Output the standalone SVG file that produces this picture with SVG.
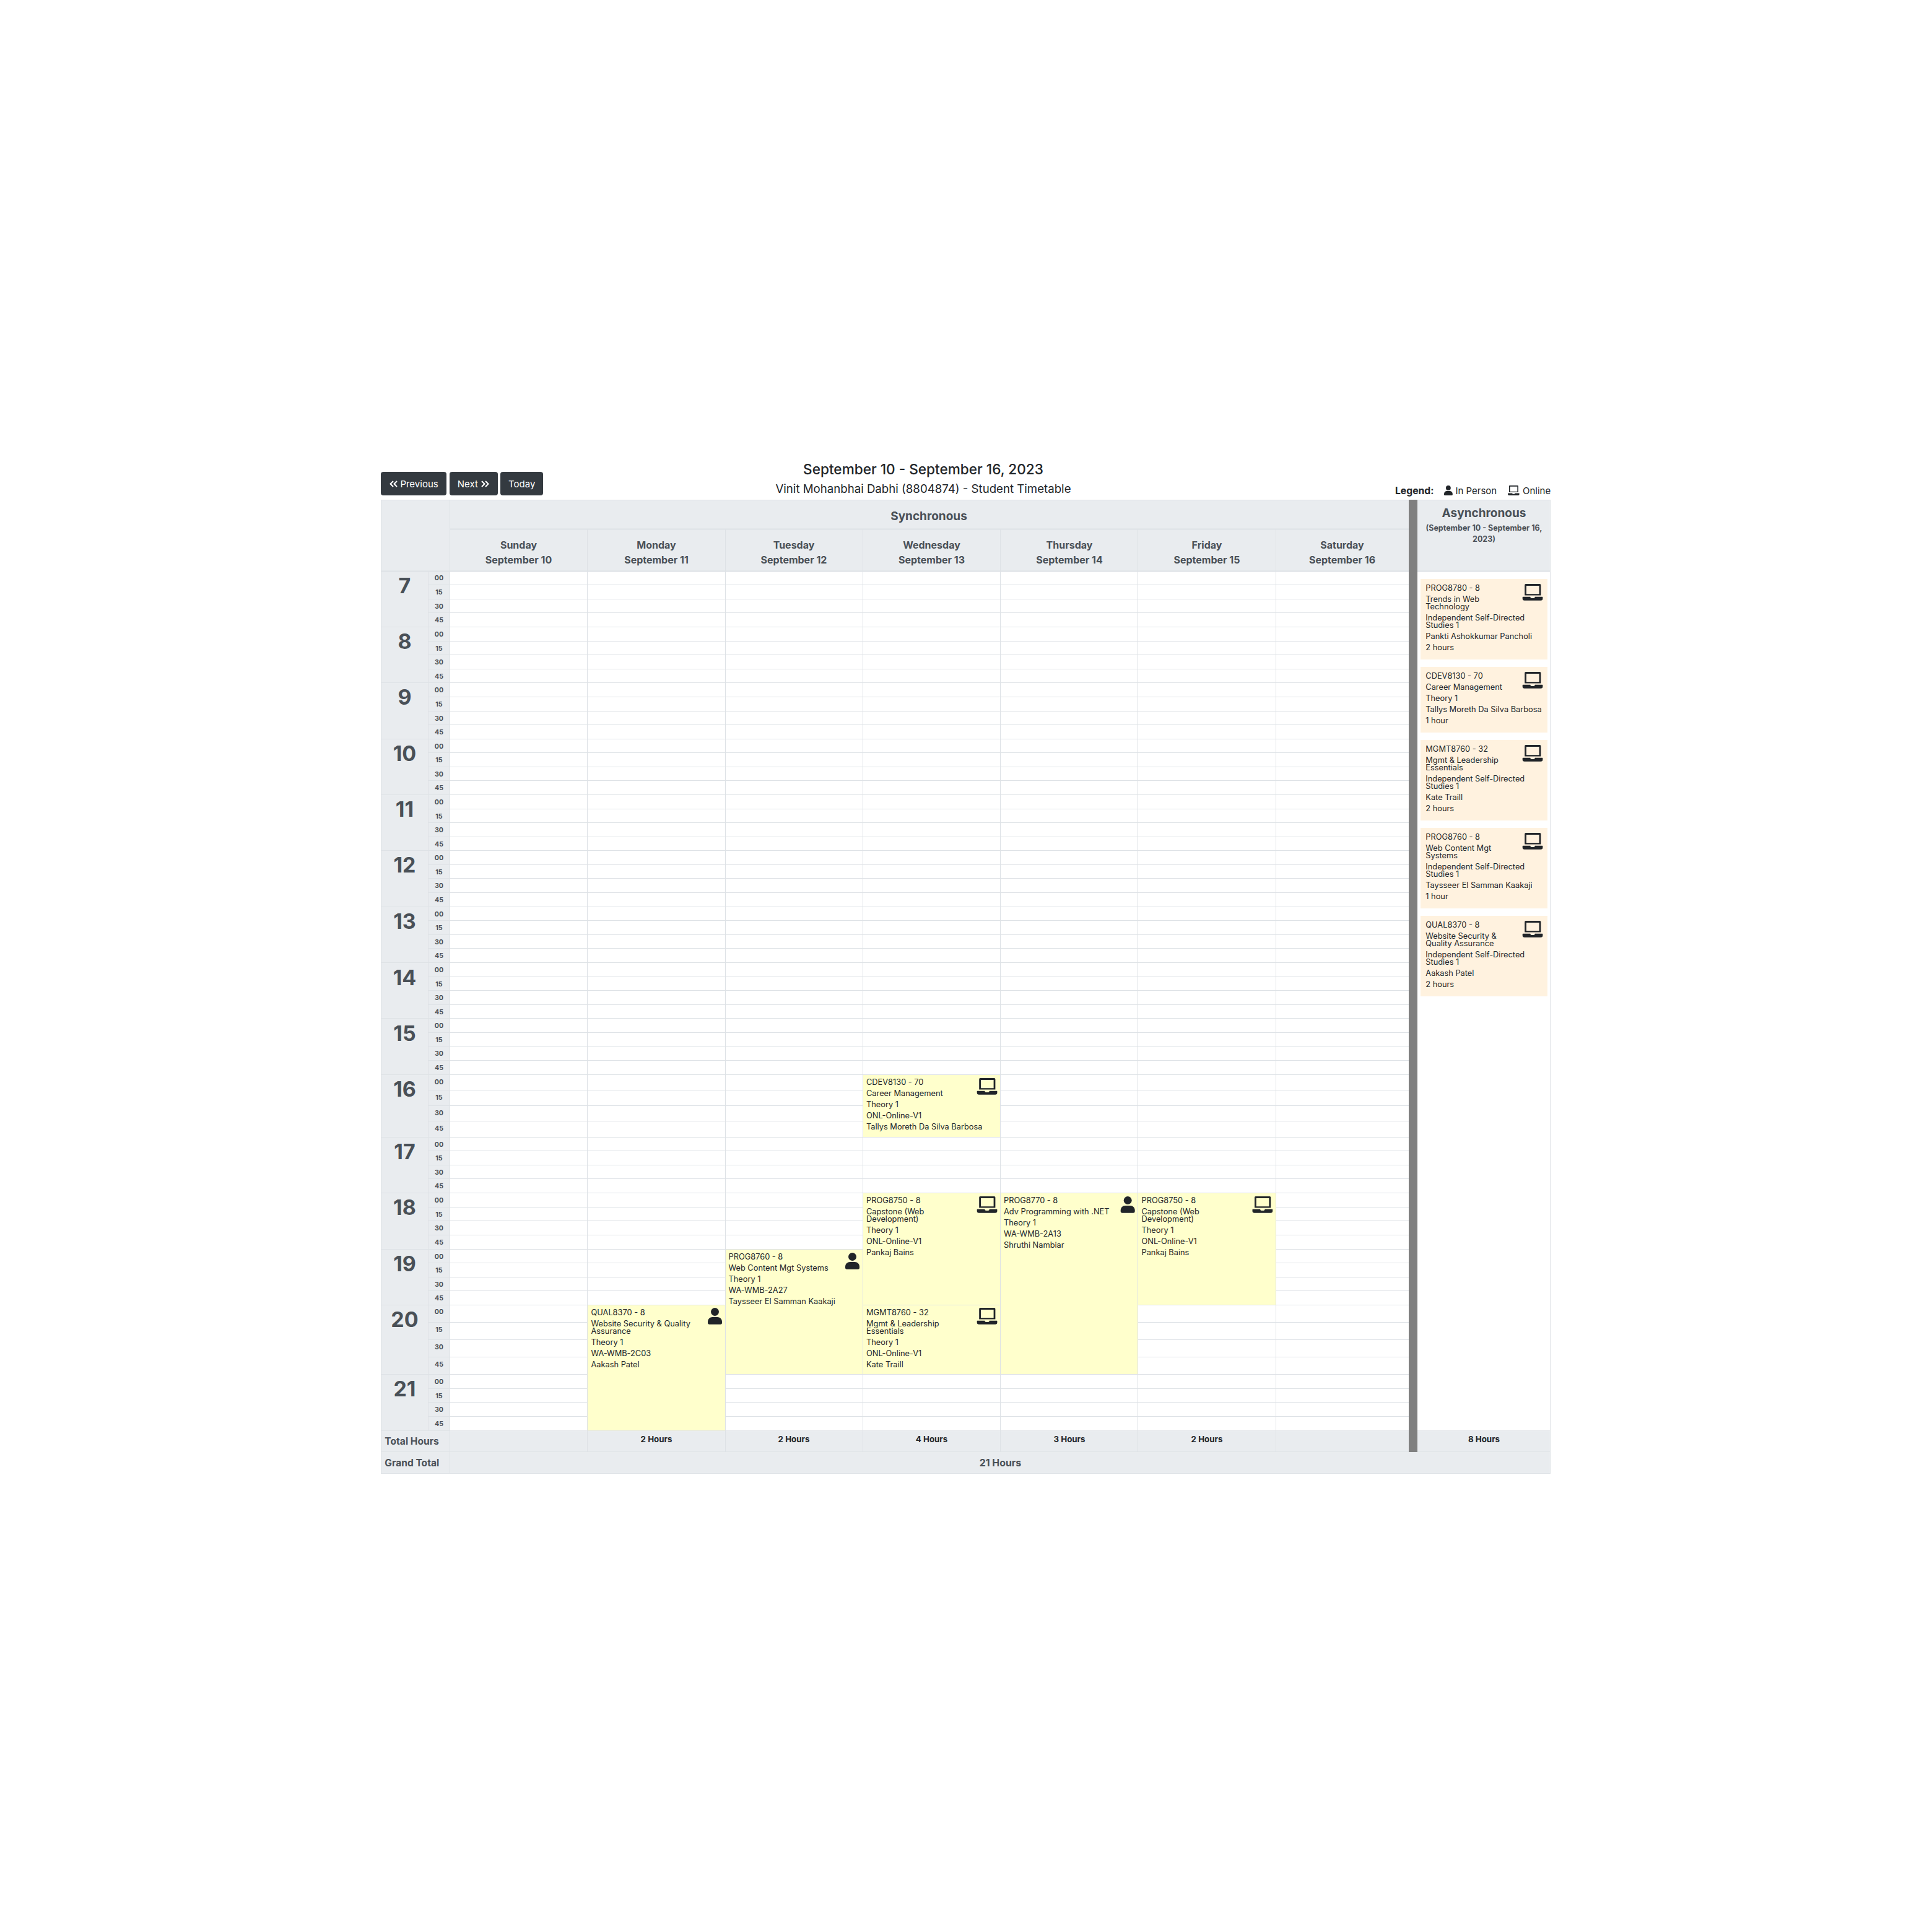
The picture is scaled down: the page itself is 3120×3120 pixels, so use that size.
<svg xmlns="http://www.w3.org/2000/svg" xmlns:xlink="http://www.w3.org/1999/xlink" width="3120" height="3120" viewBox="0 0 3120 3120">
<style>
text{font-family:Inter,"Liberation Sans",sans-serif;fill:#212529}
.h{font-size:34px;font-weight:700;fill:#495057;text-anchor:middle}
.m{font-size:10.700px;font-weight:700;fill:#495057;text-anchor:middle}
.d{font-size:16px;font-weight:700;fill:#495057;text-anchor:middle}
.e{font-size:12.800px}
.t{font-size:13.300px;font-weight:700;text-anchor:middle}
.l{font-size:15.600px;font-weight:700;fill:#495057}
.b{font-size:15px;fill:#fff}
.lg{font-size:15px}
.ev{fill:#ffffcc}
.cd{fill:#fff2df}
.ln{stroke:#dee2e6;stroke-width:1;fill:none}
.hd{fill:#e9ecef}
.ch{stroke:#fff;stroke-width:2;fill:none}
</style>
<defs>
<g id="laptop" fill="#212529"><path fill-rule="evenodd" d="M5.2 0H27.900Q29.700 0 29.700 1.800V18.500H3.500V1.800Q3.500 0 5.200 0ZM6.300 2.900V16.300H26.900V2.900Z"/><path d="M0.800 20.800H12.500Q13 23 14.500 23H18.200Q19.700 23 20.200 20.800H31.900Q32.700 20.800 32.700 21.600V23.500Q32.700 26.700 29.500 26.700H3.200Q0 26.700 0 23.500V21.600Q0 20.800 0.800 20.800Z"/></g>
<g id="person" fill="#212529"><circle cx="11.500" cy="6.500" r="6.500"/><path d="M0 22.500C0 18 3.500 15 7.500 15H15.500C19.500 15 23 18 23 22.500V24Q23 26.700 20.500 26.700H2.500Q0 26.700 0 24Z"/></g>
</defs>
<rect width="3120" height="3120" fill="#fff"/>

<g id="navigation">
<rect x="615" y="762" width="106" height="38" rx="4" fill="#343a40"/>
<rect x="726" y="762" width="78" height="38" rx="4" fill="#343a40"/>
<rect x="808" y="762" width="69" height="38" rx="4" fill="#343a40"/>
<path class="ch" d="M635 777l-4.500 4.500 4.500 4.500M641 777l-4.500 4.500 4.500 4.500M778 777l4.500 4.500-4.500 4.500M784 777l4.500 4.500-4.500 4.500"/>
<text class="b" x="646.400" y="787">Previous</text>
<text class="b" x="738.800" y="787">Next</text>
<text class="b" x="821" y="787">Today</text>
</g>
<g id="title">
<text x="1491" y="766" font-size="22.600" font-weight="500" text-anchor="middle">September 10 - September 16, 2023</text>
<text x="1491" y="796" font-size="18.650" text-anchor="middle">Vinit Mohanbhai Dabhi (8804874) - Student Timetable</text>
</g>
<g id="legend">
<text x="2253" y="798" font-size="15.700" font-weight="700">Legend:</text>
<use href="#person" transform="translate(2332 784) scale(.6)"/>
<text class="lg" x="2350.400" y="798">In Person</text>
<use href="#laptop" transform="translate(2435 784) scale(.57 .6)"/>
<text class="lg" x="2459" y="798">Online</text>
</g>

<g id="table-backgrounds">
<rect class="hd" x="615" y="807" width="1660" height="115"/>
<rect class="hd" x="2289" y="807" width="215" height="115"/>
<rect class="hd" x="615" y="922" width="111" height="1388"/>
<rect class="hd" x="615" y="2310" width="1889" height="69"/>
</g>

<g id="grid">
<path class="ln" d="M726 944.500H2275M726 967.500H2275M726 989.500H2275M726 1012.500H2275M726 1035.500H2275M726 1057.500H2275M726 1080.500H2275M726 1102.500H2275M726 1125.500H2275M726 1148.500H2275M726 1170.500H2275M726 1193.500H2275M726 1215.500H2275M726 1238.500H2275M726 1260.500H2275M726 1283.500H2275M726 1306.500H2275M726 1328.500H2275M726 1351.500H2275M726 1373.500H2275M726 1396.500H2275M726 1418.500H2275M726 1441.500H2275M726 1464.500H2275M726 1486.500H2275M726 1509.500H2275M726 1531.500H2275M726 1554.500H2275M726 1577.500H2275M726 1599.500H2275M726 1622.500H2275M726 1644.500H2275M726 1667.500H2275M726 1689.500H2275M726 1712.500H2275M726 1735.500H2275M726 1760.500H2275M726 1785.500H2275M726 1810.500H2275M726 1836.500H2275M726 1858.500H2275M726 1881.500H2275M726 1903.500H2275M726 1926.500H2275M726 1949.500H2275M726 1971.500H2275M726 1994.500H2275M726 2017.500H2275M726 2039.500H2275M726 2062.500H2275M726 2084.500H2275M726 2107.500H2275M726 2135.500H2275M726 2163.500H2275M726 2191.500H2275M726 2219.500H2275M726 2242.500H2275M726 2264.500H2275M726 2287.500H2275"/>
<path class="ln" d="M692 944.500H726M692 967.500H726M692 989.500H726M692 1035.500H726M692 1057.500H726M692 1080.500H726M692 1125.500H726M692 1148.500H726M692 1170.500H726M692 1215.500H726M692 1238.500H726M692 1260.500H726M692 1306.500H726M692 1328.500H726M692 1351.500H726M692 1396.500H726M692 1418.500H726M692 1441.500H726M692 1486.500H726M692 1509.500H726M692 1531.500H726M692 1577.500H726M692 1599.500H726M692 1622.500H726M692 1667.500H726M692 1689.500H726M692 1712.500H726M692 1760.500H726M692 1785.500H726M692 1810.500H726M692 1858.500H726M692 1881.500H726M692 1903.500H726M692 1949.500H726M692 1971.500H726M692 1994.500H726M692 2039.500H726M692 2062.500H726M692 2084.500H726M692 2135.500H726M692 2163.500H726M692 2191.500H726M692 2242.500H726M692 2264.500H726M692 2287.500H726"/>
<path class="ln" d="M615 1012.500H726M615 1102.500H726M615 1193.500H726M615 1283.500H726M615 1373.500H726M615 1464.500H726M615 1554.500H726M615 1644.500H726M615 1735.500H726M615 1836.500H726M615 1926.500H726M615 2017.500H726M615 2107.500H726M615 2219.500H726"/>
<path class="ln" d="M691.500 922V2310M726.500 807V2379M948.500 854V2344M1171.500 854V2344M1393.500 854V2344M1615.500 854V2344M1837.500 854V2344M2060.500 854V2344"/>
<path class="ln" d="M615.500 807V2379.500M615 807.500H2504M615 2310.500H2504M615 2344.500H2504M615 2379.500H2504M2503.500 807V2379"/>
<path class="ln" style="stroke-width:2" d="M726 854.500H2275M615 922.500H2275M2289 922.500H2504"/>
<rect x="2275" y="807" width="14" height="1538" fill="#808080"/>
</g>

<g id="headers">
<text x="1500" y="840" font-size="19" font-weight="700" text-anchor="middle" style="fill:#495057">Synchronous</text>
<text class="d" x="837.500" y="886">Sunday</text><text class="d" x="837.500" y="910">September 10</text>
<text class="d" x="1060" y="886">Monday</text><text class="d" x="1060" y="910">September 11</text>
<text class="d" x="1282" y="886">Tuesday</text><text class="d" x="1282" y="910">September 12</text>
<text class="d" x="1504.500" y="886">Wednesday</text><text class="d" x="1504.500" y="910">September 13</text>
<text class="d" x="1727" y="886">Thursday</text><text class="d" x="1727" y="910">September 14</text>
<text class="d" x="1949" y="886">Friday</text><text class="d" x="1949" y="910">September 15</text>
<text class="d" x="2167.500" y="886">Saturday</text><text class="d" x="2167.500" y="910">September 16</text>
<text x="2396.500" y="835" font-size="19" font-weight="700" text-anchor="middle" style="fill:#495057">Asynchronous</text>
<text x="2396.500" y="857" font-size="12.500" font-weight="700" text-anchor="middle" style="fill:#495057">(September 10 - September 16,</text>
<text x="2396.500" y="875" font-size="12.500" font-weight="700" text-anchor="middle" style="fill:#495057">2023)</text>
</g>

<g id="hour-labels">
<text class="h" x="653.500" y="958">7</text><text class="h" x="653.500" y="1048">8</text><text class="h" x="653.500" y="1138">9</text><text class="h" x="653.500" y="1229">10</text><text class="h" x="653.500" y="1319">11</text><text class="h" x="653.500" y="1409">12</text><text class="h" x="653.500" y="1500">13</text><text class="h" x="653.500" y="1591">14</text><text class="h" x="653.500" y="1681">15</text><text class="h" x="653.500" y="1771">16</text><text class="h" x="653.500" y="1872">17</text><text class="h" x="653.500" y="1962">18</text><text class="h" x="653.500" y="2053">19</text><text class="h" x="653.500" y="2143">20</text><text class="h" x="653.500" y="2255">21</text>
</g>
<g id="minute-labels">
<text class="m" x="709" y="937">00</text><text class="m" x="709" y="960">15</text><text class="m" x="709" y="983">30</text><text class="m" x="709" y="1005">45</text>
<text class="m" x="709" y="1028">00</text><text class="m" x="709" y="1051">15</text><text class="m" x="709" y="1073">30</text><text class="m" x="709" y="1096">45</text>
<text class="m" x="709" y="1118">00</text><text class="m" x="709" y="1141">15</text><text class="m" x="709" y="1164">30</text><text class="m" x="709" y="1186">45</text>
<text class="m" x="709" y="1209">00</text><text class="m" x="709" y="1231">15</text><text class="m" x="709" y="1254">30</text><text class="m" x="709" y="1276">45</text>
<text class="m" x="709" y="1299">00</text><text class="m" x="709" y="1322">15</text><text class="m" x="709" y="1344">30</text><text class="m" x="709" y="1367">45</text>
<text class="m" x="709" y="1389">00</text><text class="m" x="709" y="1412">15</text><text class="m" x="709" y="1434">30</text><text class="m" x="709" y="1457">45</text>
<text class="m" x="709" y="1480">00</text><text class="m" x="709" y="1502">15</text><text class="m" x="709" y="1525">30</text><text class="m" x="709" y="1547">45</text>
<text class="m" x="709" y="1570">00</text><text class="m" x="709" y="1593">15</text><text class="m" x="709" y="1615">30</text><text class="m" x="709" y="1638">45</text>
<text class="m" x="709" y="1660">00</text><text class="m" x="709" y="1683">15</text><text class="m" x="709" y="1705">30</text><text class="m" x="709" y="1728">45</text>
<text class="m" x="709" y="1751">00</text><text class="m" x="709" y="1776">15</text><text class="m" x="709" y="1801">30</text><text class="m" x="709" y="1826">45</text>
<text class="m" x="709" y="1852">00</text><text class="m" x="709" y="1874">15</text><text class="m" x="709" y="1897">30</text><text class="m" x="709" y="1919">45</text>
<text class="m" x="709" y="1942">00</text><text class="m" x="709" y="1965">15</text><text class="m" x="709" y="1987">30</text><text class="m" x="709" y="2010">45</text>
<text class="m" x="709" y="2033">00</text><text class="m" x="709" y="2055">15</text><text class="m" x="709" y="2078">30</text><text class="m" x="709" y="2100">45</text>
<text class="m" x="709" y="2122">00</text><text class="m" x="709" y="2151">15</text><text class="m" x="709" y="2179">30</text><text class="m" x="709" y="2207">45</text>
<text class="m" x="709" y="2235">00</text><text class="m" x="709" y="2258">15</text><text class="m" x="709" y="2280">30</text><text class="m" x="709" y="2303">45</text>
</g>

<g id="event-cdev8130">
<rect class="ev" x="1394" y="1736" width="221" height="100"/>
<use href="#laptop" x="1577.700" y="1741"/>
<text class="e" x="1399" y="1752">CDEV8130 - 70</text><text class="e" x="1399" y="1770">Career Management</text><text class="e" x="1399" y="1788">Theory 1</text><text class="e" x="1399" y="1806">ONL-Online-V1</text><text class="e" x="1399" y="1824">Tallys Moreth Da Silva Barbosa</text>
</g>
<g id="event-prog8750-wed">
<rect class="ev" x="1394" y="1927" width="221" height="180"/>
<use href="#laptop" x="1577.700" y="1932"/>
<text class="e" x="1399" y="1943">PROG8750 - 8</text><text class="e" x="1399" y="1961">Capstone (Web</text><text class="e" x="1399" y="1973">Development)</text><text class="e" x="1399" y="1991">Theory 1</text><text class="e" x="1399" y="2009">ONL-Online-V1</text><text class="e" x="1399" y="2027">Pankaj Bains</text>
</g>
<g id="event-mgmt8760">
<rect class="ev" x="1394" y="2108" width="221" height="111"/>
<use href="#laptop" x="1577.700" y="2112"/>
<text class="e" x="1399" y="2123.500">MGMT8760 - 32</text><text class="e" x="1399" y="2141.500">Mgmt &amp; Leadership</text><text class="e" x="1399" y="2153.500">Essentials</text><text class="e" x="1399" y="2171.500">Theory 1</text><text class="e" x="1399" y="2189.500">ONL-Online-V1</text><text class="e" x="1399" y="2207.500">Kate Traill</text>
</g>
<g id="event-prog8770">
<rect class="ev" x="1616" y="1927" width="221" height="292"/>
<use href="#person" x="1809.700" y="1932"/>
<text class="e" x="1621" y="1943">PROG8770 - 8</text><text class="e" x="1621" y="1961">Adv Programming with .NET</text><text class="e" x="1621" y="1979">Theory 1</text><text class="e" x="1621" y="1997">WA-WMB-2A13</text><text class="e" x="1621" y="2015">Shruthi Nambiar</text>
</g>
<g id="event-prog8750-fri">
<rect class="ev" x="1838" y="1927" width="222" height="180"/>
<use href="#laptop" x="2022.500" y="1932"/>
<text class="e" x="1843.500" y="1943">PROG8750 - 8</text><text class="e" x="1843.500" y="1961">Capstone (Web</text><text class="e" x="1843.500" y="1973">Development)</text><text class="e" x="1843.500" y="1991">Theory 1</text><text class="e" x="1843.500" y="2009">ONL-Online-V1</text><text class="e" x="1843.500" y="2027">Pankaj Bains</text>
</g>
<g id="event-prog8760">
<rect class="ev" x="1172" y="2018" width="221" height="201"/>
<use href="#person" x="1365" y="2023"/>
<text class="e" x="1176.500" y="2033.500">PROG8760 - 8</text><text class="e" x="1176.500" y="2051.500">Web Content Mgt Systems</text><text class="e" x="1176.500" y="2069.500">Theory 1</text><text class="e" x="1176.500" y="2087.500">WA-WMB-2A27</text><text class="e" x="1176.500" y="2105.500">Taysseer El Samman Kaakaji</text>
</g>
<g id="event-qual8370">
<rect class="ev" x="949" y="2108" width="222" height="202"/>
<use href="#person" x="1143" y="2112"/>
<text class="e" x="954.500" y="2123.500">QUAL8370 - 8</text><text class="e" x="954.500" y="2141.500">Website Security &amp; Quality</text><text class="e" x="954.500" y="2153.500">Assurance</text><text class="e" x="954.500" y="2171.500">Theory 1</text><text class="e" x="954.500" y="2189.500">WA-WMB-2C03</text><text class="e" x="954.500" y="2207.500">Aakash Patel</text>
</g>

<g id="async-prog8780">
<rect class="cd" x="2294" y="935" width="205" height="130"/>
<use href="#laptop" x="2458.700" y="943"/>
<text class="e" x="2302.300" y="954">PROG8780 - 8</text><text class="e" x="2302.300" y="972">Trends in Web</text><text class="e" x="2302.300" y="984">Technology</text><text class="e" x="2302.300" y="1002">Independent Self-Directed</text><text class="e" x="2302.300" y="1014">Studies 1</text><text class="e" x="2302.300" y="1032">Pankti Ashokkumar Pancholi</text><text class="e" x="2302.300" y="1050">2 hours</text>
</g>
<g id="async-cdev8130">
<rect class="cd" x="2294" y="1077" width="205" height="106"/>
<use href="#laptop" x="2458.700" y="1085"/>
<text class="e" x="2302.300" y="1096">CDEV8130 - 70</text><text class="e" x="2302.300" y="1114">Career Management</text><text class="e" x="2302.300" y="1132">Theory 1</text><text class="e" x="2302.300" y="1150">Tallys Moreth Da Silva Barbosa</text><text class="e" x="2302.300" y="1168">1 hour</text>
</g>
<g id="async-mgmt8760">
<rect class="cd" x="2294" y="1195" width="205" height="130"/>
<use href="#laptop" x="2458.700" y="1203"/>
<text class="e" x="2302.300" y="1214">MGMT8760 - 32</text><text class="e" x="2302.300" y="1232">Mgmt &amp; Leadership</text><text class="e" x="2302.300" y="1244">Essentials</text><text class="e" x="2302.300" y="1262">Independent Self-Directed</text><text class="e" x="2302.300" y="1274">Studies 1</text><text class="e" x="2302.300" y="1292">Kate Traill</text><text class="e" x="2302.300" y="1310">2 hours</text>
</g>
<g id="async-prog8760">
<rect class="cd" x="2294" y="1337" width="205" height="130"/>
<use href="#laptop" x="2458.700" y="1345"/>
<text class="e" x="2302.300" y="1356">PROG8760 - 8</text><text class="e" x="2302.300" y="1374">Web Content Mgt</text><text class="e" x="2302.300" y="1386">Systems</text><text class="e" x="2302.300" y="1404">Independent Self-Directed</text><text class="e" x="2302.300" y="1416">Studies 1</text><text class="e" x="2302.300" y="1434">Taysseer El Samman Kaakaji</text><text class="e" x="2302.300" y="1452">1 hour</text>
</g>
<g id="async-qual8370">
<rect class="cd" x="2294" y="1479" width="205" height="130"/>
<use href="#laptop" x="2458.700" y="1487"/>
<text class="e" x="2302.300" y="1498">QUAL8370 - 8</text><text class="e" x="2302.300" y="1516">Website Security &amp;</text><text class="e" x="2302.300" y="1528">Quality Assurance</text><text class="e" x="2302.300" y="1546">Independent Self-Directed</text><text class="e" x="2302.300" y="1558">Studies 1</text><text class="e" x="2302.300" y="1576">Aakash Patel</text><text class="e" x="2302.300" y="1594">2 hours</text>
</g>

<g id="totals">
<text class="l" x="621.300" y="2333">Total Hours</text>
<text class="l" x="621.300" y="2368">Grand Total</text>
<text class="t" x="1060" y="2329">2 Hours</text><text class="t" x="1282" y="2329">2 Hours</text><text class="t" x="1504.500" y="2329">4 Hours</text><text class="t" x="1727" y="2329">3 Hours</text><text class="t" x="1949" y="2329">2 Hours</text><text class="t" x="2396.500" y="2329">8 Hours</text>
<text x="1615.500" y="2368" font-size="15.900" font-weight="700" text-anchor="middle" style="fill:#495057">21 Hours</text>
</g>
</svg>
